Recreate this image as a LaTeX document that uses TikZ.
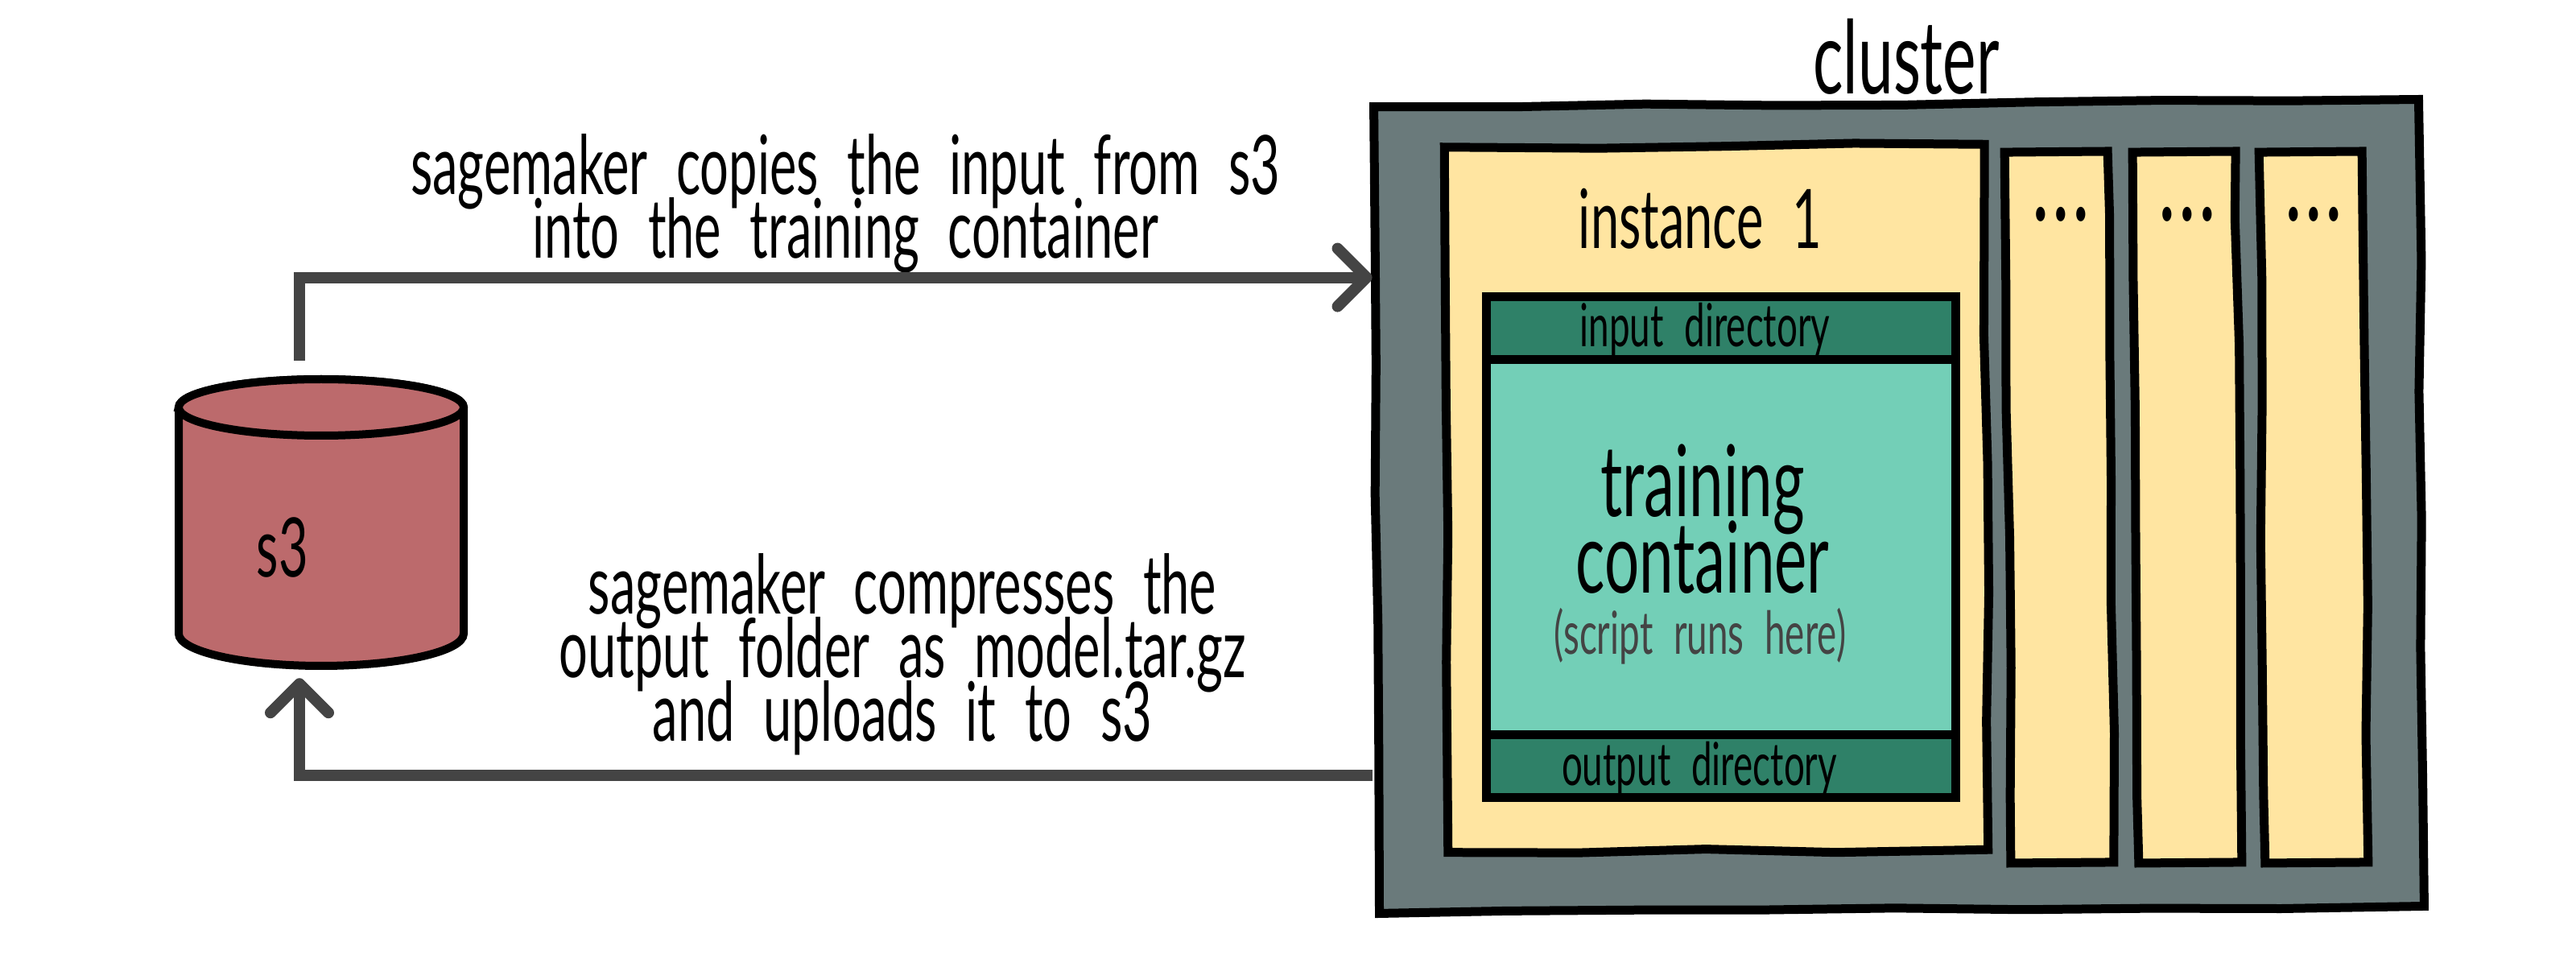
\documentclass[tikz,border=0pt]{standalone}
\usepackage{fontspec}
\setmainfont[FakeStretch=0.62,WordSpace=2.2]{Lato}
\usetikzlibrary{arrows.meta,decorations.pathmorphing}
\definecolor{clustergray}{HTML}{6A7A7B}
\definecolor{instancecream}{HTML}{FFE5A1}
\definecolor{containermint}{HTML}{73CFB7}
\definecolor{dirgreen}{HTML}{2F8168}
\definecolor{s3red}{HTML}{BC6A6C}
\definecolor{flowgray}{HTML}{444444}
\newcommand{\tightlines}{\setlength{\lineskiplimit}{-30pt}}
\tikzset{
  plainbox/.style={draw,black,line width=0.11cm,inner sep=0pt},
  sketchbox/.style={plainbox,decorate,decoration={random steps,segment length=1.6cm,amplitude=0.025cm}},
  slimbox/.style={sketchbox,fill=instancecream,rotate=0.5,minimum width=1.28cm,minimum height=8.83cm},
  dirbox/.style={plainbox,fill=dirgreen,minimum width=5.83cm,minimum height=0.78cm},
  s3body/.style={black,line width=0.1cm,fill=s3red},
  flow/.style={flowgray,line width=0.14cm,-{Straight Barb[length=0.36cm,width=0.72cm,round]}},
  biglabel/.style={font=\fontsize{29}{22.5}\selectfont\tightlines,align=center,inner sep=0pt},
  hugelabel/.style={font=\fontsize{35}{27}\selectfont\tightlines,align=center,inner sep=0pt},
  smalllabel/.style={font=\fontsize{21}{20}\selectfont,align=center,inner sep=0pt},
  dotlabel/.style={font=\fontsize{34}{34}\selectfont\bfseries\addfontfeature{LetterSpace=6},inner sep=0pt}
}
\begin{document}
\begin{tikzpicture}
\pgfmathsetseed{7}
\useasboundingbox (0,0) rectangle (32,12);

\node (cluster) at (23.59,5.71) [sketchbox,fill=clustergray,rotate=0.4,minimum width=12.98cm,minimum height=10.02cm] {};
\node (instance) at (21.32,5.81) [sketchbox,fill=instancecream,rotate=0.3,minimum width=6.71cm,minimum height=8.76cm] {};
\node (slimA) at (25.58,5.70) [slimbox] {};
\node (slimB) at (27.17,5.70) [slimbox] {};
\node (slimC) at (28.74,5.70) [slimbox] {};

\node (training) at (21.38,5.21) [plainbox,fill=containermint,minimum width=5.83cm,minimum height=4.66cm] {};
\node (inputdir) at (21.38,7.92) [dirbox] {};
\node (outputdir) at (21.38,2.49) [dirbox] {};

\node (s3) at (3.99,5.50) [minimum width=3.54cm,minimum height=3.55cm,inner sep=0pt] {};
\draw[s3body] (2.22,6.94) -- (2.22,4.13) arc (180:360:1.77 and 0.40) -- (5.76,6.94) arc (0:180:1.77 and 0.35) -- cycle;
\draw[s3body] (3.99,6.94) ellipse (1.77 and 0.35);

\node (clusterlabel) at (23.68,11.30) [font=\fontsize{36}{36}\selectfont,inner sep=0pt] {cluster};
\node (instancelabel) at (21.12,9.28) [biglabel] {instance 1};
\node (dotsA) at (25.60,9.34) [dotlabel] {...};
\node (dotsB) at (27.17,9.34) [dotlabel] {...};
\node (dotsC) at (28.74,9.34) [dotlabel] {...};
\node (inputlabel) at (21.18,7.90) [smalllabel] {input directory};
\node (traininglabel) at (21.15,5.55) [hugelabel] {training\\container};
\node (scriptlabel) at (21.12,4.10) [smalllabel,text=flowgray] {(script runs here)};
\node (outputlabel) at (21.11,2.45) [smalllabel] {output directory};
\node (s3label) at (3.51,5.20) [biglabel] {s3};
\node (copylabel) at (10.50,9.47) [biglabel] {sagemaker copies the input from s3\\into the training container};
\node (uploadlabel) at (11.21,3.87) [biglabel] {sagemaker compresses the\\output folder as model.tar.gz\\and uploads it to s3};

\draw[flow] ([shift={(-0.27,0.24)}]s3.north) |- ([yshift=2.89cm]cluster.west);
\draw[flow] ([yshift=-3.29cm]cluster.west) -| ([shift={(-0.27,-0.14)}]s3.south);
\end{tikzpicture}
\end{document}
